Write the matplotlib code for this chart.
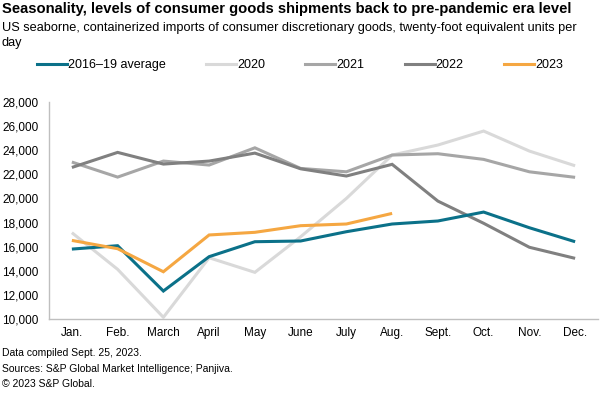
import matplotlib
matplotlib.use("Agg")
import matplotlib.pyplot as plt
from matplotlib.lines import Line2D

plt.rcParams['font.family'] = ['Liberation Sans', 'DejaVu Sans']

months = ["Jan.", "Feb.", "March", "April", "May", "June", "July", "Aug.",
          "Sept.", "Oct.", "Nov.", "Dec."]
avg_2016_19 = [15800, 16080, 12320, 15170, 16410, 16470, 17240, 17880, 18130, 18870, 17570, 16410]
y2020 = [17160, 14120, 10140, 15080, 13870, 16820, 20000, 23600, 24430, 25590, 23930, 22710]
y2021 = [23020, 21770, 23100, 22770, 24200, 22490, 22210, 23600, 23710, 23240, 22210, 21750]
y2022 = [22570, 23820, 22850, 23100, 23760, 22460, 21860, 22830, 19780, 17940, 15950, 15030]
y2023 = [16520, 15830, 13920, 16970, 17190, 17740, 17880, 18760]

series_names = ["2016\u201319 average", "2020", "2021", "2022", "2023"]
yticks = list(range(10000, 28001, 2000))

colors = ["#0B7189", "#D9D9D9", "#A6A6A6", "#808080", "#F5A742"]

fig = plt.figure(figsize=(6.0, 3.93), dpi=100)
ax = fig.add_axes([49/600, 1-319/393, 549/600, 217/393])

x = list(range(len(months)))
order = [1, 2, 3, 0, 4]
data = [avg_2016_19, y2020, y2021, y2022, y2023]
for i in order:
    vals = data[i]
    ax.plot(x[:len(vals)], vals, color=colors[i], lw=2.2, solid_joinstyle='miter',
            solid_capstyle='butt', zorder=3)

ax.set_xlim(-0.5, 11.5)
ax.set_ylim(10000, 28000)
ax.set_xticks(x)
ax.set_xticklabels(months, fontsize=8.5)
ax.set_yticks(yticks)
ax.set_yticklabels([f"{v:,}" for v in yticks], fontsize=8.5)
ax.tick_params(axis='y', length=0, pad=7.5)
ax.tick_params(axis='x', length=0, pad=6)
for s in ["top", "right"]:
    ax.spines[s].set_visible(False)
for s in ["left", "bottom"]:
    ax.spines[s].set_color("#BFBFBF")
    ax.spines[s].set_linewidth(1.0)

fig.text(0.003, 1-9.5/393, "Seasonality, levels of consumer goods shipments back to pre-pandemic era level",
         fontsize=10.6, fontweight='bold', va='center', ha='left')
fig.text(0.003, 1-28/393, "US seaborne, containerized imports of consumer discretionary goods, twenty-foot equivalent units per",
         fontsize=9.2, va='center', ha='left')
fig.text(0.003, 1-43/393, "day", fontsize=9.2, va='center', ha='left')

handles = [Line2D([0], [0], color=c, lw=2.2) for c in colors]
leg = fig.legend(handles, series_names, loc='center left', bbox_to_anchor=(37/600, 1-65/393),
                 ncol=5, frameon=False, fontsize=9, handlelength=2.4, handletextpad=0.1,
                 columnspacing=3.2, borderaxespad=0, borderpad=0)

fig.text(0.003, 1-353/393, "Data compiled Sept. 25, 2023.", fontsize=7.5, va='center', ha='left')
fig.text(0.003, 1-369/393, "Sources: S&P Global Market Intelligence; Panjiva.", fontsize=7.5, va='center', ha='left')
fig.text(0.003, 1-384/393, "\u00a9 2023 S&P Global.", fontsize=7.5, va='center', ha='left')

fig.savefig("out.png", dpi=100)
